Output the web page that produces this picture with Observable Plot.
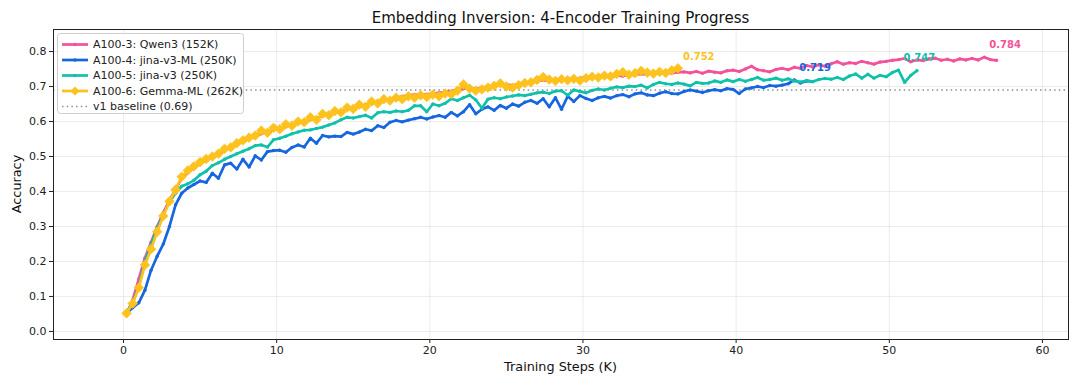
<!DOCTYPE html>
<html><head><meta charset="utf-8">
<script src="https://cdn.jsdelivr.net/npm/d3@7"></script>
<script src="https://cdn.jsdelivr.net/npm/@observablehq/plot@0.6"></script>
<style>html,body{margin:0;padding:0;background:#fff;} svg{display:block;}</style>
</head><body><div id="chart"></div>
<script>
// ---- data ----
const FIRST_STEP = 0.2;   // K steps of first evaluation
const EVAL_EVERY = 0.4;   // K steps between evaluations

const seriesNames = ["A100-3: Qwen3 (152K)", "A100-4: jina-v3-ML (250K)", "A100-5: jina-v3 (250K)", "A100-6: Gemma-ML (262K)"];
const seriesColors = ["#f4519b", "#1666df", "#10c1aa", "#fdc21d"];

const qwen3 = [
  0.050, 0.090, 0.150, 0.210, 0.255, 0.300, 0.340, 0.375, 0.405, 0.438,
  0.455, 0.468, 0.480, 0.490, 0.498, 0.508, 0.518, 0.526, 0.535, 0.543,
  0.550, 0.557, 0.565, 0.570, 0.576, 0.580, 0.585, 0.590, 0.596, 0.600,
  0.606, 0.610, 0.616, 0.622, 0.625, 0.630, 0.634, 0.640, 0.643, 0.648,
  0.652, 0.656, 0.660, 0.664, 0.667, 0.672, 0.675, 0.677, 0.676, 0.678,
  0.680, 0.682, 0.684, 0.687, 0.690, 0.694, 0.696, 0.693, 0.697, 0.699,
  0.702, 0.704, 0.706, 0.703, 0.708, 0.712, 0.710, 0.715, 0.718, 0.716,
  0.720, 0.719, 0.722, 0.720, 0.724, 0.726, 0.724, 0.728, 0.730, 0.727,
  0.732, 0.730, 0.734, 0.733, 0.736, 0.735, 0.738, 0.736, 0.740, 0.738,
  0.741, 0.742, 0.739, 0.743, 0.738, 0.744, 0.741, 0.739, 0.745, 0.747,
  0.743, 0.750, 0.758, 0.748, 0.745, 0.742, 0.749, 0.752, 0.748, 0.755,
  0.752, 0.760, 0.756, 0.762, 0.758, 0.765, 0.771, 0.764, 0.768, 0.766,
  0.772, 0.768, 0.764, 0.770, 0.772, 0.775, 0.777, 0.780, 0.771, 0.776,
  0.774, 0.779, 0.781, 0.775, 0.778, 0.773, 0.779, 0.776, 0.780, 0.776,
  0.784, 0.777, 0.775
];
const jinaV3ML = [
  0.052, 0.068, 0.082, 0.118, 0.175, 0.215, 0.250, 0.300, 0.362, 0.395,
  0.410, 0.420, 0.430, 0.426, 0.452, 0.438, 0.476, 0.481, 0.464, 0.492,
  0.470, 0.502, 0.490, 0.514, 0.517, 0.518, 0.512, 0.526, 0.533, 0.527,
  0.552, 0.538, 0.560, 0.556, 0.558, 0.557, 0.569, 0.564, 0.570, 0.578,
  0.574, 0.588, 0.583, 0.598, 0.603, 0.599, 0.604, 0.608, 0.612, 0.607,
  0.613, 0.617, 0.612, 0.626, 0.616, 0.628, 0.648, 0.622, 0.635, 0.642,
  0.632, 0.646, 0.638, 0.650, 0.644, 0.655, 0.660, 0.652, 0.665, 0.642,
  0.668, 0.635, 0.672, 0.657, 0.674, 0.666, 0.660, 0.668, 0.672, 0.667,
  0.674, 0.677, 0.671, 0.679, 0.682, 0.676, 0.674, 0.681, 0.685, 0.680,
  0.679, 0.686, 0.690, 0.687, 0.683, 0.688, 0.691, 0.688, 0.694, 0.692,
  0.680, 0.693, 0.696, 0.700, 0.697, 0.703, 0.701, 0.704, 0.708, 0.719,
  0.710, 0.716, 0.714
];
const jinaV3 = [
  0.054, 0.082, 0.130, 0.200, 0.248, 0.295, 0.335, 0.370, 0.395, 0.415,
  0.422, 0.432, 0.448, 0.458, 0.474, 0.482, 0.492, 0.500, 0.508, 0.515,
  0.522, 0.531, 0.533, 0.527, 0.548, 0.552, 0.558, 0.565, 0.570, 0.575,
  0.576, 0.580, 0.584, 0.590, 0.596, 0.605, 0.612, 0.610, 0.614, 0.618,
  0.610, 0.625, 0.628, 0.626, 0.630, 0.628, 0.632, 0.645, 0.645, 0.628,
  0.650, 0.645, 0.652, 0.665, 0.660, 0.668, 0.675, 0.662, 0.638, 0.664,
  0.668, 0.665, 0.670, 0.673, 0.676, 0.674, 0.678, 0.682, 0.684, 0.680,
  0.687, 0.688, 0.675, 0.690, 0.686, 0.682, 0.689, 0.693, 0.690, 0.695,
  0.699, 0.697, 0.701, 0.700, 0.704, 0.696, 0.706, 0.712, 0.708, 0.706,
  0.710, 0.707, 0.702, 0.712, 0.709, 0.710, 0.716, 0.712, 0.719, 0.714,
  0.720, 0.715, 0.720, 0.726, 0.718, 0.720, 0.724, 0.718, 0.722, 0.716,
  0.713, 0.717, 0.714, 0.720, 0.723, 0.721, 0.726, 0.720, 0.730, 0.736,
  0.724, 0.735, 0.724, 0.732, 0.728, 0.740, 0.747, 0.712, 0.732, 0.745
];
const gemmaML = [
  0.052, 0.080, 0.125, 0.190, 0.235, 0.285, 0.330, 0.372, 0.405, 0.442,
  0.460, 0.472, 0.484, 0.493, 0.500, 0.508, 0.522, 0.526, 0.538, 0.546,
  0.554, 0.560, 0.574, 0.568, 0.582, 0.578, 0.592, 0.588, 0.600, 0.598,
  0.612, 0.605, 0.622, 0.618, 0.630, 0.626, 0.640, 0.636, 0.648, 0.642,
  0.657, 0.652, 0.664, 0.660, 0.668, 0.664, 0.672, 0.668, 0.675, 0.670,
  0.677, 0.672, 0.680, 0.678, 0.688, 0.706, 0.694, 0.688, 0.692, 0.697,
  0.702, 0.709, 0.700, 0.697, 0.704, 0.710, 0.712, 0.719, 0.727, 0.720,
  0.716, 0.721, 0.718, 0.722, 0.717, 0.724, 0.728, 0.726, 0.731, 0.729,
  0.736, 0.741, 0.734, 0.738, 0.745, 0.740, 0.737, 0.742, 0.739, 0.746,
  0.752
];
const baselineValue = 0.69;
const baselineLabel = "v1 baseline (0.69)";
const xTicks = [0, 10, 20, 30, 40, 50, 60];
const yTicks = [0.0, 0.1, 0.2, 0.3, 0.4, 0.5, 0.6, 0.7, 0.8];
const titleText = "Embedding Inversion: 4-Encoder Training Progress";
const xLabel = "Training Steps (K)";
const yLabel = "Accuracy";

// ---- build ----
const allValues = [qwen3, jinaV3ML, jinaV3, gemmaML];
const series = allValues.map((vals, k) => ({
  name: seriesNames[k],
  color: seriesColors[k],
  rows: vals.map((v, i) => ({series: seriesNames[k], step: FIRST_STEP + EVAL_EVERY * i, acc: v}))
}));

const marks = [
  Plot.gridX(xTicks, {stroke: "#b0b0b0", strokeOpacity: 0.3, strokeWidth: 0.8}),
  Plot.gridY(yTicks, {stroke: "#b0b0b0", strokeOpacity: 0.3, strokeWidth: 0.8}),
  Plot.ruleY([baselineValue], {stroke: "#8c8c8c", strokeWidth: 1.4, strokeDasharray: "1.5,3.2"})
];
series.forEach((s, k) => {
  marks.push(Plot.line(s.rows, {x: "step", y: "acc", stroke: s.color, strokeWidth: 2.7, strokeLinejoin: "round"}));
  if (k === 3) {
    marks.push(Plot.dot(s.rows, {x: "step", y: "acc", symbol: "diamond2", r: 4.4, fill: s.color, stroke: s.color, strokeWidth: 0.6}));
  } else {
    marks.push(Plot.dot(s.rows, {x: "step", y: "acc", r: 1.7, fill: s.color, stroke: "none"}));
  }
});
series.forEach(s => {
  const best = d3.greatest(s.rows, d => d.acc);
  marks.push(Plot.text([best], {x: "step", y: "acc", text: d => d.acc.toFixed(3), fill: s.color,
    textAnchor: "start", lineAnchor: "middle", dx: 5, dy: -12, fontWeight: "bold", fontSize: 10}));
});
marks.push(
  Plot.axisX(xTicks, {tickSize: 4, tickPadding: 3, label: null, fontSize: 11, stroke: "#222"}),
  Plot.axisY(yTicks, {tickSize: 4, tickPadding: 3, label: null, fontSize: 11, tickFormat: d3.format(".1f"), stroke: "#222"}),
  Plot.frame({stroke: "#222", strokeWidth: 1})
);

const chart = Plot.plot({
  width: 1080, height: 386,
  marginLeft: 53, marginRight: 12, marginTop: 29, marginBottom: 47,
  x: {domain: [-4.57, 61.7]},
  y: {domain: [-0.023, 0.863]},
  style: {fontFamily: "'DejaVu Sans', sans-serif", fontSize: "11px", background: "#fff", color: "#222"},
  marks
});
document.getElementById("chart").appendChild(chart);

// ---- title, axis labels, legend ----
const svg = d3.select(chart);
svg.append("text").attr("x", 560.5).attr("y", 23).attr("text-anchor", "middle")
  .attr("font-size", 15).attr("fill", "#111").text(titleText);
svg.append("text").attr("x", 560.5).attr("y", 371).attr("text-anchor", "middle")
  .attr("font-size", 12.8).attr("fill", "#111").text(xLabel);
svg.append("text").attr("transform", "translate(21,184) rotate(-90)").attr("text-anchor", "middle")
  .attr("font-size", 12.8).attr("fill", "#111").text(yLabel);

const lg = svg.append("g").attr("font-size", 11).attr("fill", "#222").attr("text-anchor", "start");
lg.append("rect").attr("x", 57.5).attr("y", 33.5).attr("width", 186).attr("height", 80).attr("rx", 3)
  .attr("fill", "#fff").attr("fill-opacity", 0.85).attr("stroke", "#cfcfcf");
const legendItems = series.map((s, k) => ({label: s.name, color: s.color, kind: k === 3 ? "diamond" : "dot"}))
  .concat([{label: baselineLabel, color: "#8c8c8c", kind: "dotted"}]);
legendItems.forEach((it, i) => {
  const y = 44.5 + i * 15.5;
  const line = lg.append("line").attr("x1", 62).attr("x2", 88).attr("y1", y).attr("y2", y)
    .attr("stroke", it.color);
  if (it.kind === "dotted") {
    line.attr("stroke-width", 1.4).attr("stroke-dasharray", "1.5,3.2");
  } else {
    line.attr("stroke-width", 2.7);
    if (it.kind === "diamond") {
      lg.append("path").attr("d", "M75,"+(y-4.4)+"L79.4,"+y+"L75,"+(y+4.4)+"L70.6,"+y+"Z").attr("fill", it.color);
    } else {
      lg.append("circle").attr("cx", 75).attr("cy", y).attr("r", 1.7).attr("fill", it.color);
    }
  }
  lg.append("text").attr("x", 93).attr("y", y).attr("dy", "0.36em").attr("text-anchor", "start").text(it.label);
});
</script>
</body></html>
